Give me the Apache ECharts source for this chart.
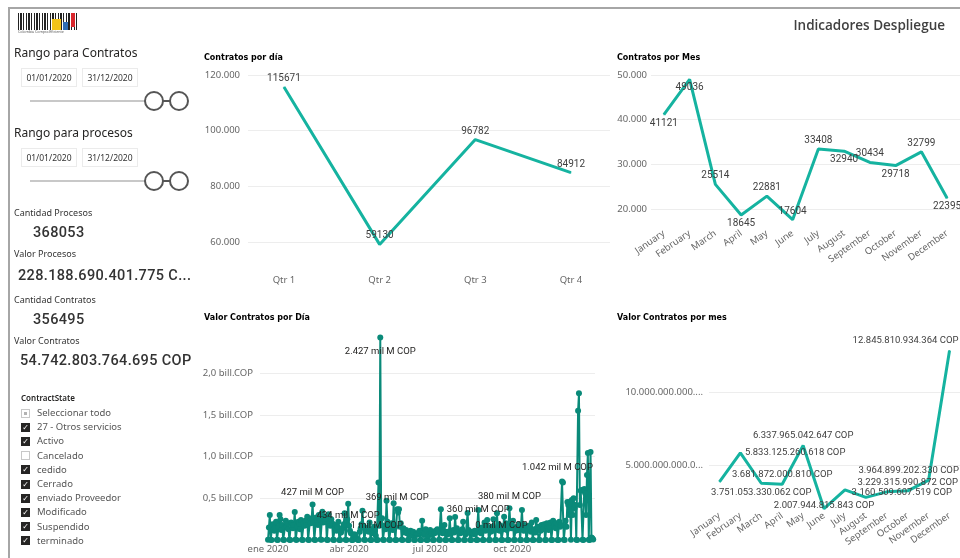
<!DOCTYPE html>
<html>
<head>
<meta charset="utf-8">
<script src="https://cdn.jsdelivr.net/npm/echarts@6/dist/echarts.min.js"></script>
<style>
html, body { margin: 0; padding: 0; background: #fff; }
body { width: 960px; height: 558px; position: relative; overflow: hidden; font-family: 'Noto Sans', sans-serif; color: #333; }
#chart { position: absolute; left: 0; top: 0; width: 960px; height: 558px; }
.abs { position: absolute; white-space: nowrap; }
.frame-top { left: 8px; top: 7px; width: 952px; height: 2px; background: #a6a6a6; }
.frame-left { left: 8px; top: 7px; width: 2px; height: 551px; background: #a6a6a6; }
.titulo { right: 15px; top: 15px; font: 600 13.5px/20px 'Open Sans', sans-serif; color: #404040; }
.rango { left: 14px; font: 12px/14px 'Noto Sans', sans-serif; color: #252423; }
.fecha { width: 56px; height: 19px; border: 1px solid #ebebeb; box-sizing: border-box; font: 8.5px/17px 'Noto Sans', sans-serif; text-align: center; color: #333; }
.pista { left: 30px; width: 115px; height: 2px; background: #c8c8c8; }
.bola { width: 20px; height: 20px; border: 2px solid #555; border-radius: 50%; box-sizing: border-box; background: #fff; }
.union { left: 163px; width: 7px; height: 2px; background: #555; }
.etq { left: 14px; font: 9px/12px 'Noto Sans', sans-serif; color: #333; }
.kpi { font: 500 14.5px/18px 'Roboto', sans-serif; letter-spacing: 0.35px; color: #333; }
.estado { left: 21px; font: 600 8px/10px 'Noto Sans', sans-serif; color: #252423; }
.item { left: 37px; font: 9.5px/12px 'Noto Sans', sans-serif; color: #555; }
.caja { left: 21px; width: 9px; height: 9px; box-sizing: border-box; }
.caja.on { background: #252423; color: #fff; font: bold 8px/9px 'DejaVu Sans', sans-serif; text-align: center; }
.caja.off { border: 1px solid #c8c8c8; background: #fff; }
.caja.part { border: 1px solid #c8c8c8; background: #fff; }
.caja.part::after { content: ''; position: absolute; left: 2px; top: 2px; width: 3px; height: 3px; background: #b3b3b3; }
.logo { left: 18px; top: 13px; width: 59px; height: 17px;
  background: repeating-linear-gradient(90deg, #222 0 1px, #fff 1px 2px, #222 2px 4px, #fff 4px 5px, #222 5px 6px, #fff 6px 8px); }
.logo-txt { left: 18px; top: 30px; font: 3.6px/4px 'Noto Sans', sans-serif; color: #555; }
</style>
</head>
<body>
<div id="chart"></div>

<div class="abs frame-top"></div>
<div class="abs frame-left"></div>
<div class="abs titulo">Indicadores Despliegue</div>

<div class="abs logo"></div>
<div class="abs" style="left:52px;top:19px;width:9px;height:11px;background:#f2c318"></div>
<div class="abs" style="left:63px;top:22px;width:5px;height:8px;background:#2f6db5"></div>
<div class="abs" style="left:71px;top:13px;width:4px;height:14px;background:#d9262c"></div>
<div class="abs logo-txt">Colombia Compra Eficiente</div>

<div class="abs rango" style="top:46px">Rango para Contratos</div>
<div class="abs fecha" style="left:21px;top:68px">01/01/2020</div>
<div class="abs fecha" style="left:82px;top:68px">31/12/2020</div>
<div class="abs pista" style="top:100px"></div>
<div class="abs union" style="top:100px"></div>
<div class="abs bola" style="left:144px;top:91px"></div>
<div class="abs bola" style="left:169px;top:91px"></div>

<div class="abs rango" style="top:126px">Rango para procesos</div>
<div class="abs fecha" style="left:21px;top:148px">01/01/2020</div>
<div class="abs fecha" style="left:82px;top:148px">31/12/2020</div>
<div class="abs pista" style="top:180px"></div>
<div class="abs union" style="top:180px"></div>
<div class="abs bola" style="left:144px;top:171px"></div>
<div class="abs bola" style="left:169px;top:171px"></div>

<div class="abs etq" style="top:207px">Cantidad Procesos</div>
<div class="abs kpi" style="left:33px;top:224px">368053</div>
<div class="abs etq" style="top:248px">Valor Procesos</div>
<div class="abs kpi" style="left:18px;top:267px">228.188.690.401.775 C...</div>
<div class="abs etq" style="top:294px">Cantidad Contratos</div>
<div class="abs kpi" style="left:33px;top:311px">356495</div>
<div class="abs etq" style="top:335px">Valor Contratos</div>
<div class="abs kpi" style="left:20px;top:352px">54.742.803.764.695 COP</div>

<div class="abs estado" style="top:393px">ContractState</div>
<div id="lista"></div>

<script>
// Contratos por día (por trimestre)
var trimestres = ['Qtr 1', 'Qtr 2', 'Qtr 3', 'Qtr 4'];
var contratosTrimestre = [115671, 59130, 96782, 84912];
var ticksTrimestre = [60000, 80000, 100000, 120000];

// Contratos por mes
var meses = ['January', 'February', 'March', 'April', 'May', 'June', 'July', 'August', 'September', 'October', 'November', 'December'];
var contratosMes = [41121, 49036, 25514, 18645, 22881, 17604, 33408, 32940, 30434, 29718, 32799, 22395];
var ticksMes = [20000, 30000, 40000, 50000];

// Valor contratos por día, en mil millones de COP, desde el 1 de enero de 2020 (semanas mié-mar)
var valorDia = [
    2, 150, 300, 3, 1, 190, 120,
    110, 140, 220, 4, 1, 160, 300,
    250, 120, 180, 2, 1, 150, 230,
    160, 200, 130, 3, 0, 210, 170,
    140, 180, 335, 5, 1, 160, 220,
    200, 130, 240, 2, 1, 200, 170,
    230, 180, 280, 4, 1, 220, 200,
    260, 427, 210, 3, 1, 270, 230,
    180, 300, 250, 6, 2, 340, 210,
    280, 220, 260, 3, 1, 310, 200,
    170, 250, 200, 2, 1, 140, 180,
    110, 160, 220, 1, 0, 90, 130,
    150, 190, 320, 2, 1, 250, 434,
    170, 110, 80, 1, 0, 60, 70,
    60, 20, 10, 1, 0, 100, 140,
    190, 350, 170, 2, 1, 130, 110,
    150, 100, 210, 1, 0, 120, 80,
    160, 140, 50, 1, 1, 690, 170,
    2427, 180, 260, 4, 1, 170, 130,
    470, 220, 150, 2, 1, 160, 200,
    120, 440, 140, 1, 0, 369, 330,
    370, 160, 200, 2, 1, 140, 100,
    90, 120, 80, 1, 0, 70, 110,
    80, 50, 100, 1, 0, 60, 70,
    70, 90, 110, 1, 0, 230, 80,
    60, 80, 130, 1, 0, 50, 100,
    120, 90, 70, 1, 0, 80, 110,
    100, 130, 100, 2, 0, 370, 140,
    80, 110, 180, 1, 0, 100, 70,
    100, 260, 80, 1, 0, 120, 90,
    275, 110, 140, 1, 0, 90, 80,
    100, 130, 220, 1, 0, 70, 90,
    325, 120, 90, 1, 0, 100, 80,
    70, 110, 90, 1, 0, 360, 130,
    90, 80, 150, 1, 0, 210, 110,
    170, 240, 130, 1, 0, 100, 160,
    110, 250, 140, 1, 0, 320, 120,
    190, 110, 170, 0, 0, 130, 280,
    150, 200, 120, 1, 0, 380, 180,
    140, 170, 230, 1, 0, 110, 150,
    160, 120, 190, 1, 0, 360, 130,
    110, 180, 140, 1, 0, 120, 170,
    150, 100, 210, 1, 0, 130, 90,
    240, 140, 160, 1, 0, 110, 180,
    170, 130, 190, 1, 0, 200, 150,
    120, 160, 210, 1, 0, 230, 170,
    190, 140, 200, 1, 0, 220, 160,
    180, 700, 690, 2, 1, 230, 160,
    455, 420, 300, 460, 2, 480, 300,
    500, 380, 420, 2, 1, 1550, 1760,
    420, 590, 600, 3, 1, 610, 560,
    300, 780, 1042, 2, 1, 1055, 30,
    20, 5
];
var etiquetasDia = [126, 50, 90, 145, 122, 236, 271, 262, 359];
var ticksDiaPos = [0, 91, 182, 274];
var ticksDiaTexto = ['ene 2020', 'abr 2020', 'jul 2020', 'oct 2020'];
var ticksDiaValor = [500, 1000, 1500, 2000];

// Valor contratos por mes, COP
var valorMes = [3850000000000, 5833125260618, 3751053330062, 3681872000810, 6337965042647, 2007944815843,
    3300000000000, 2780000000000, 3160509607519, 3229315990872, 3964899202330, 12845810934364];
var etiquetasMes = [1, 2, 3, 4, 5, 8, 9, 10, 11];
var ticksValorMes = [5000000000000, 10000000000000];

// Estados del filtro
var estados = ['Seleccionar todo', '27 - Otros servicios', 'Activo', 'Cancelado', 'cedido', 'Cerrado', 'enviado Proveedor', 'Modificado', 'Suspendido', 'terminado'];
var estadosMarca = ['part', 'on', 'on', 'off', 'on', 'on', 'on', 'on', 'on', 'on'];

function miles(n) {
    return String(Math.round(n)).replace(/\B(?=(\d{3})+(?!\d))/g, '.');
}

// lista de estados
(function () {
    var html = '';
    estados.forEach(function (e, i) {
        var y = 413 + i * 14.2;
        html += '<div class="abs caja ' + estadosMarca[i] + '" style="top:' + (y - 4.5) + 'px">' + (estadosMarca[i] === 'on' ? '&#10003;' : '') + '</div>';
        html += '<div class="abs item" style="top:' + (y - 6) + 'px">' + e + '</div>';
    });
    document.getElementById('lista').innerHTML = html;
})();

var chart = echarts.init(document.getElementById('chart'));

var colorLinea = '#15b3a0';
var colorDia = '#0a8a79';
var ejeTexto = { color: '#666', fontSize: 9.5, fontFamily: 'Noto Sans' };
var datoTexto = { color: '#404040', fontSize: 10, fontFamily: 'Roboto' };
var tituloTexto = { fontSize: 8, fontWeight: 'bold', fontFamily: 'DejaVu Sans', color: '#000' };
var rejilla = { lineStyle: { color: '#ededed', width: 1 } };

var posMes = ['bottom', 'bottom', 'top', 'bottom', 'top', 'top', 'top', 'bottom', 'top', 'bottom', 'top', 'bottom'];
var posValorMes = {
    1: { position: 'right' },
    2: { position: 'bottom' },
    3: { position: 'top' },
    4: { position: 'top' },
    5: { position: 'inside', offset: [0, -3] },
    8: { position: 'inside', offset: [15, 1] },
    9: { position: 'top', distance: 3 },
    10: { position: 'top', offset: [-20, 0] },
    11: { position: 'top', offset: [-44, 0] }
};
var posDia = {
    126: { position: 'bottom', distance: 6 },
    50: { position: 'top' },
    90: { position: 'bottom' },
    145: { position: 'top' },
    122: { position: 'top', distance: 6 },
    236: { position: 'inside' },
    271: { position: 'top' },
    262: { position: 'top', distance: 6 },
    359: { position: 'left', offset: [12, 15] }
};

var option = {
    animation: false,
    title: [
        { text: 'Contratos por día', left: 204, top: 54, padding: 0, textStyle: tituloTexto },
        { text: 'Contratos por Mes', left: 617, top: 54, padding: 0, textStyle: tituloTexto },
        { text: 'Valor Contratos por Día', left: 204, top: 314, padding: 0, textStyle: tituloTexto },
        { text: 'Valor Contratos por mes', left: 617, top: 314, padding: 0, textStyle: tituloTexto }
    ],
    grid: [
        { left: 248, top: 75, width: 362, height: 178.1 },
        { left: 651, top: 75, width: 318, height: 147.4 },
        { left: 260, top: 334.8, width: 335, height: 205.2 },
        { left: 709, top: 348.2, width: 257, height: 160.6 }
    ],
    xAxis: [
        {
            gridIndex: 0, type: 'value', min: -0.376, max: 3.408,
            axisLine: { show: false }, axisTick: { show: false, customValues: [0, 1, 2, 3] }, splitLine: { show: false },
            axisLabel: Object.assign({ customValues: [0, 1, 2, 3], margin: 22, formatter: function (v) { return trimestres[Math.round(v)]; } }, ejeTexto)
        },
        {
            gridIndex: 1, type: 'category', data: meses, boundaryGap: true,
            axisLine: { show: false }, axisTick: { show: false },
            axisLabel: Object.assign({ interval: 0, rotate: 35, margin: 10 }, ejeTexto)
        },
        {
            gridIndex: 2, type: 'value', min: -9, max: 367,
            axisLine: { show: false }, axisTick: { show: false, customValues: ticksDiaPos }, splitLine: { show: false },
            axisLabel: Object.assign({ customValues: ticksDiaPos, margin: 4, formatter: function (v) { return ticksDiaTexto[ticksDiaPos.indexOf(Math.round(v))]; } }, ejeTexto)
        },
        {
            gridIndex: 3, type: 'category', data: meses, boundaryGap: true,
            axisLine: { show: false }, axisTick: { show: false },
            axisLabel: Object.assign({ interval: 0, rotate: 35, margin: 6 }, ejeTexto)
        }
    ],
    yAxis: [
        {
            gridIndex: 0, type: 'value', min: 56000, max: 120000,
            axisLine: { show: false }, axisTick: { show: false, customValues: ticksTrimestre }, splitLine: rejilla,
            axisLabel: Object.assign({ customValues: ticksTrimestre, margin: 8, formatter: miles }, ejeTexto)
        },
        {
            gridIndex: 1, type: 'value', min: 17000, max: 50000,
            axisLine: { show: false }, axisTick: { show: false, customValues: ticksMes }, splitLine: rejilla,
            axisLabel: Object.assign({ customValues: ticksMes, margin: 4, formatter: miles }, ejeTexto)
        },
        {
            gridIndex: 2, type: 'value', min: 0, max: 2460,
            axisLine: { show: false }, axisTick: { show: false, customValues: ticksDiaValor }, splitLine: rejilla,
            axisLabel: Object.assign({ customValues: ticksDiaValor, margin: 7, formatter: function (v) { return (v / 1000).toFixed(1).replace('.', ',') + ' bill.COP'; } }, ejeTexto)
        },
        {
            gridIndex: 3, type: 'value', min: 2000000000000, max: 13000000000000,
            axisLine: { show: false }, axisTick: { show: false, customValues: ticksValorMes }, splitLine: rejilla,
            axisLabel: Object.assign({ customValues: ticksValorMes, margin: 6, width: 81, overflow: 'truncate', ellipsis: '...', formatter: function (v) { return miles(v) + ' COP'; } }, ejeTexto)
        }
    ],
    series: [
        {
            type: 'line', xAxisIndex: 0, yAxisIndex: 0,
            data: contratosTrimestre.map(function (v, i) { return [i, v]; }),
            symbol: 'circle', symbolSize: 1, clip: false,
            lineStyle: { color: colorLinea, width: 3 }, itemStyle: { color: colorLinea },
            label: Object.assign({ show: true, position: 'top', distance: 3, formatter: function (p) { return p.value[1]; } }, datoTexto)
        },
        {
            type: 'line', xAxisIndex: 1, yAxisIndex: 1,
            data: contratosMes.map(function (v, i) { return { value: v, label: { position: posMes[i] } }; }),
            symbol: 'circle', symbolSize: 1, clip: false,
            lineStyle: { color: colorLinea, width: 3 }, itemStyle: { color: colorLinea },
            label: Object.assign({ show: true, distance: 3 }, datoTexto)
        },
        {
            type: 'line', xAxisIndex: 2, yAxisIndex: 2,
            data: valorDia.map(function (v, i) {
                var d = { value: [i, v] };
                if (etiquetasDia.indexOf(i) >= 0) {
                    d.label = Object.assign({ show: true }, posDia[i]);
                }
                return d;
            }),
            symbol: 'circle', symbolSize: 6, showAllSymbol: true,
            lineStyle: { color: colorDia, width: 2 }, itemStyle: { color: colorDia },
            label: Object.assign({ show: false, distance: 4, formatter: function (p) { return miles(p.value[1]) + ' mil M COP'; } }, datoTexto, { color: '#252423', fontSize: 9.5 })
        },
        {
            type: 'line', xAxisIndex: 3, yAxisIndex: 3,
            data: valorMes.map(function (v, i) {
                var d = { value: v };
                if (etiquetasMes.indexOf(i) >= 0) {
                    d.label = Object.assign({ show: true }, posValorMes[i]);
                }
                return d;
            }),
            symbol: 'circle', symbolSize: 1, clip: false,
            lineStyle: { color: colorLinea, width: 3 }, itemStyle: { color: colorLinea },
            label: Object.assign({ show: false, distance: 4, formatter: function (p) { return miles(p.value) + ' COP'; } }, datoTexto, { fontSize: 9.5 })
        }
    ]
};

chart.setOption(option);
window.addEventListener('resize', function () {
    chart.resize();
});
</script>
</body>
</html>
